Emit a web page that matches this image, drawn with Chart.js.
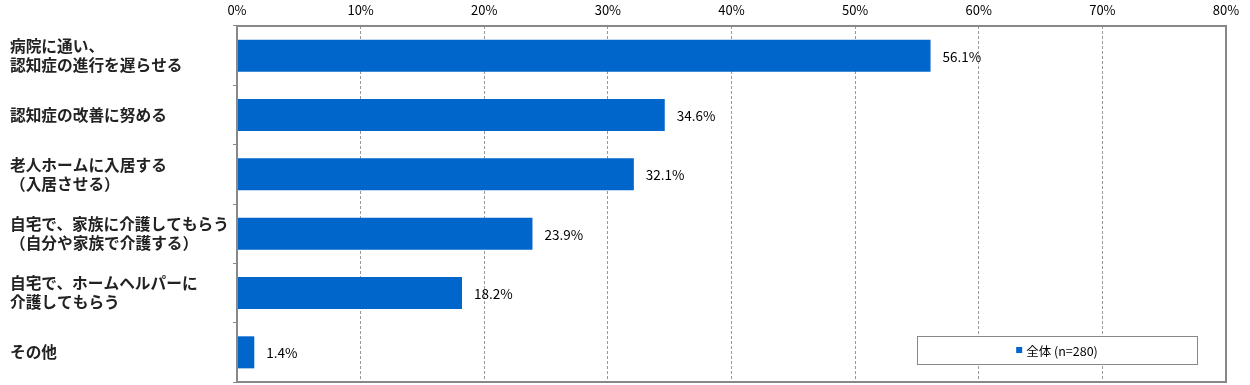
<!DOCTYPE html>
<html>
<head>
<meta charset="utf-8">
<script src="https://cdn.jsdelivr.net/npm/chart.js@4"></script>
<style>
  html, body { margin: 0; padding: 0; background: #fff; }
  #wrap { width: 1250px; height: 385px; }
</style>
</head>
<body>
<div id="wrap"><canvas id="myChart"></canvas></div>
<script>
// data
const categories = [
  ['病院に通い、', '認知症の進行を遅らせる'],
  '認知症の改善に努める',
  ['老人ホームに入居する', '（入居させる）'],
  ['自宅で、家族に介護してもらう', '（自分や家族で介護する）'],
  ['自宅で、ホームヘルパーに', '介護してもらう'],
  'その他'
];
const seriesName = '全体 (n=280)';
const values = [56.1, 34.6, 32.1, 23.9, 18.2, 1.4];
const tickLabels = ['0%', '10%', '20%', '30%', '40%', '50%', '60%', '70%', '80%'];

const font = '"Noto Sans CJK JP", "Noto Sans", sans-serif';
const blue = '#0066cc';

// value labels at bar ends
const valueLabels = {
  id: 'valueLabels',
  afterDatasetsDraw(chart) {
    const ctx = chart.ctx;
    const meta = chart.getDatasetMeta(0);
    ctx.save();
    ctx.font = '13.5px ' + font;
    ctx.fillStyle = '#000';
    ctx.textBaseline = 'middle';
    meta.data.forEach((bar, i) => {
      ctx.fillText(values[i].toFixed(1) + '%', bar.x + 12, bar.y + 1);
    });
    ctx.restore();
  }
};

// plot frame + legend box inside the plot
const frameAndLegend = {
  id: 'frameAndLegend',
  afterDraw(chart) {
    const ctx = chart.ctx;
    const a = chart.chartArea;
    ctx.save();
    ctx.strokeStyle = '#888';
    ctx.lineWidth = 2;
    ctx.strokeRect(a.left, a.top, a.right - a.left, a.bottom - a.top);

    // legend
    const bx = a.right - 309, by = a.bottom - 46, bw = 280, bh = 28;
    ctx.fillStyle = '#fff';
    ctx.fillRect(bx, by, bw, bh);
    ctx.lineWidth = 1;
    ctx.strokeStyle = '#888';
    ctx.strokeRect(bx + 0.5, by + 0.5, bw, bh);
    ctx.font = '12.5px ' + font;
    const tw = ctx.measureText(seriesName).width;
    const sx = bx + bw / 2 - (tw + 10) / 2;
    ctx.fillStyle = blue;
    ctx.fillRect(sx, by + bh / 2 - 3, 6, 6);
    ctx.fillStyle = '#000';
    ctx.textBaseline = 'middle';
    ctx.fillText(seriesName, sx + 10, by + bh / 2 + 1);
    ctx.restore();
  }
};

const data = {
  labels: categories,
  datasets: [{
    label: seriesName,
    data: values,
    backgroundColor: blue,
    borderWidth: 0,
    categoryPercentage: 0.54,
    barPercentage: 1
  }]
};

const config = {
  type: 'bar',
  data: data,
  options: {
    indexAxis: 'y',
    responsive: true,
    maintainAspectRatio: false,
    animation: false,
    layout: { padding: { left: 10, top: 0, right: 24, bottom: 3 } },
    plugins: {
      legend: { display: false },
      tooltip: { enabled: false }
    },
    scales: {
      x: {
        position: 'top',
        min: 0,
        max: 80,
        afterFit(scale) { scale.height = 26; },
        afterBuildTicks(scale) {
          scale.ticks = tickLabels.map((t, i) => ({ value: i * 10 }));
        },
        ticks: {
          callback: (v, i) => tickLabels[i],
          font: { family: font, size: 13 },
          color: '#000',
          padding: 8,
          maxRotation: 0
        },
        grid: {
          color: '#999',
          drawTicks: false,
          tickLength: 0
        },
        border: { display: false, dash: [3, 2] }
      },
      y: {
        afterFit(scale) {
          scale.width = 227;
          scale.paddingTop = 0;
          scale.paddingBottom = 0;
        },
        ticks: {
          crossAlign: 'far',
          font: { family: font, size: 15.7, weight: 'bold', lineHeight: 1.21 },
          color: '#222',
          padding: 8
        },
        grid: {
          offset: true,
          drawOnChartArea: false,
          drawTicks: true,
          tickLength: 4,
          color: '#888'
        },
        border: { display: false }
      }
    }
  },
  plugins: [valueLabels, frameAndLegend]
};

const myChart = new Chart(document.getElementById('myChart'), config);
</script>
</body>
</html>
